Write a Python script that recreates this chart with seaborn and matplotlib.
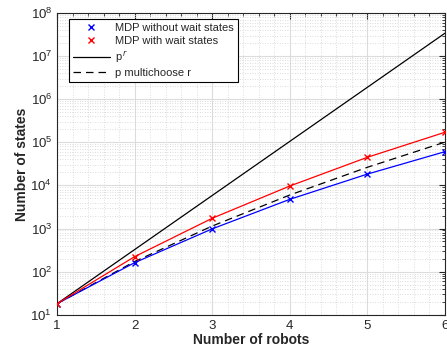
import numpy as np
import pandas as pd
import matplotlib
matplotlib.use("Agg")
import matplotlib.pyplot as plt
import seaborn as sns
from matplotlib.ticker import LogLocator, MultipleLocator, NullFormatter
from matplotlib.lines import Line2D

robots = [1, 2, 3, 4, 5, 6]
mdp_without_wait = [18, 161, 980, 4750, 18300, 60600]
mdp_with_wait = [18, 222, 1726, 9680, 44900, 171000]
p_pow_r = [18, 324, 5832, 104976, 1889568, 34012224]
p_multichoose_r = [18, 171, 1140, 5985, 26334, 100947]

sns.set_style("white")
plt.rcParams['font.family'] = ['Liberation Sans', 'DejaVu Sans']
plt.rcParams['mathtext.fontset'] = 'custom'
plt.rcParams['mathtext.rm'] = 'Liberation Sans'

fig = plt.figure(figsize=(4.47, 3.51), dpi=100)
ax = fig.add_axes([0.1275, 0.1034, 0.868, 0.8596])

df = pd.DataFrame({"r": robots, "without": mdp_without_wait, "with": mdp_with_wait,
                   "pr": p_pow_r, "pmr": p_multichoose_r})

sns.lineplot(data=df, x="r", y="pr", ax=ax, color="black", lw=0.9, zorder=3)
sns.lineplot(data=df, x="r", y="pmr", ax=ax, color="black", lw=0.9, zorder=3,
             linestyle=(0, (6, 4)))
sns.lineplot(data=df, x="r", y="without", ax=ax, color="blue", lw=0.9, zorder=4,
             marker="x", markersize=5, markeredgewidth=1.0, markeredgecolor="blue")
sns.lineplot(data=df, x="r", y="with", ax=ax, color="red", lw=0.9, zorder=4,
             marker="x", markersize=5, markeredgewidth=1.0, markeredgecolor="red")

ax.set_yscale("log")
ax.set_xlim(1, 6)
ax.set_ylim(10, 1e8)
ax.xaxis.set_major_locator(MultipleLocator(1))
ax.xaxis.set_minor_locator(MultipleLocator(0.2))
ax.yaxis.set_major_locator(LogLocator(base=10, numticks=20))
ax.yaxis.set_minor_locator(LogLocator(base=10, subs=np.arange(2, 10), numticks=20))
ax.yaxis.set_minor_formatter(NullFormatter())

ax.grid(True, which="major", color="#dcdcdc", lw=0.8, zorder=0)
ax.grid(True, which="minor", color="#d0d0d0", lw=0.6, linestyle=(0, (1, 2)), zorder=0)
ax.set_axisbelow(True)

for s in ax.spines.values():
    s.set_color("#262626")
    s.set_linewidth(0.8)
ax.tick_params(which="both", direction="in", top=True, right=True, colors="#262626",
               labelsize=9.5, labelcolor="#262626")
ax.tick_params(which="major", length=4)
ax.tick_params(which="minor", length=2)

ax.set_xlabel("Number of robots", fontsize=10, fontweight="bold", labelpad=1)
ax.set_ylabel("Number of states", fontsize=10, fontweight="bold", labelpad=1)

handles = [
    Line2D([], [], color="blue", marker="x", linestyle="none", markersize=5),
    Line2D([], [], color="red", marker="x", linestyle="none", markersize=5),
    Line2D([], [], color="black", lw=0.9),
    Line2D([], [], color="black", lw=0.9, linestyle=(0, (6, 4))),
]
labels = ["MDP without wait states", "MDP with wait states", r"p$^{\,r}$", "p multichoose r"]
leg = ax.legend(handles, labels, loc="upper left", bbox_to_anchor=(0.02, 0.995),
                fontsize=8, frameon=True, fancybox=False, edgecolor="black",
                framealpha=1, handlelength=3.3, borderpad=0.35, labelspacing=0.3,
                handletextpad=0.5, borderaxespad=0.4)
leg.get_frame().set_linewidth(0.8)

fig.savefig("out.png", dpi=100)
